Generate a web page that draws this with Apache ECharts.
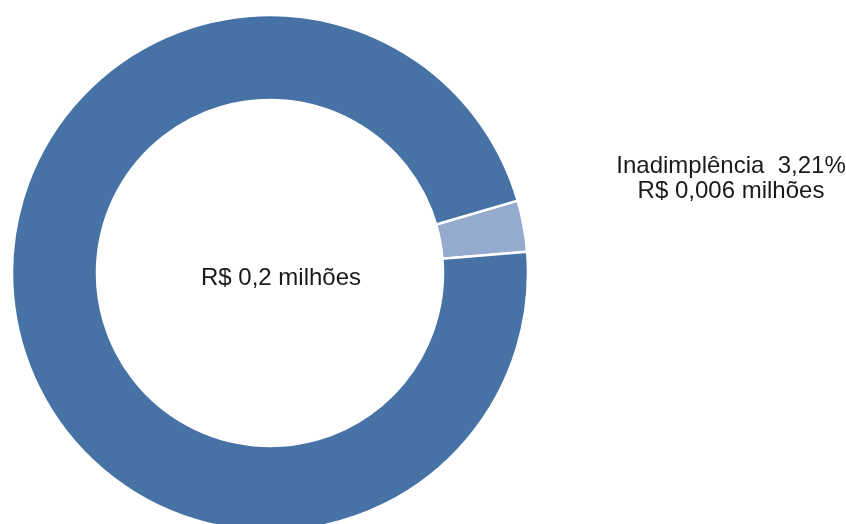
<!DOCTYPE html>
<html>
<head>
<meta charset="utf-8">
<script src="https://cdn.jsdelivr.net/npm/echarts@6/dist/echarts.min.js"></script>
<style>
html,body{margin:0;padding:0;background:#fff;}
#c{width:846px;height:524px;}
</style>
</head>
<body>
<div id="c"></div>
<script>
const categories = ['Inadimplência', 'Adimplente'];
const values = [3.21, 96.79];
const labelTexts = ['Inadimplência  3,21%', 'R$ 0,006 milhões'];
const centerText = 'R$ 0,2 milhões';
const colors = ['#95AACF', '#4672A6'];

const chart = echarts.init(document.getElementById('c'), null, {renderer: 'canvas'});
chart.setOption({
  animation: false,
  backgroundColor: '#ffffff',
  color: colors,
  series: [{
    type: 'pie',
    center: [270, 273],
    radius: [173, 258],
    startAngle: 16.3,
    clockwise: true,
    label: {show: false},
    labelLine: {show: false},
    emphasis: {disabled: true},
    itemStyle: {borderColor: '#ffffff', borderWidth: 2.5},
    data: categories.map((c, i) => ({name: c, value: values[i]}))
  }],
  graphic: [
    {
      type: 'text',
      position: [281, 278],
      style: {
        text: centerText,
        textAlign: 'center',
        textVerticalAlign: 'middle',
        font: '24px "Liberation Sans", Arial, sans-serif',
        fill: '#1a1a1a'
      }
    },
    {
      type: 'text',
      position: [731, 179],
      style: {
        text: labelTexts.join('\n'),
        textAlign: 'center',
        textVerticalAlign: 'middle',
        lineHeight: 25,
        font: '24px "Liberation Sans", Arial, sans-serif',
        fill: '#1a1a1a'
      }
    }
  ]
});
</script>
</body>
</html>
